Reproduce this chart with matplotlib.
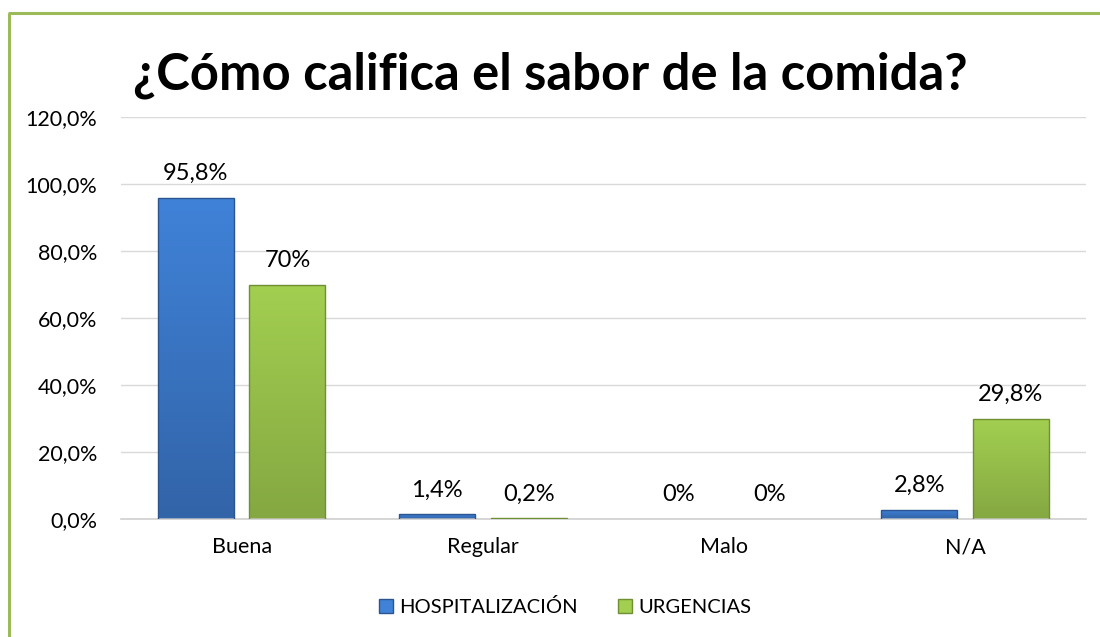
import matplotlib
matplotlib.use("Agg")
import matplotlib.pyplot as plt
import numpy as np
from matplotlib.lines import Line2D
from matplotlib.patches import Patch
from matplotlib.colors import LinearSegmentedColormap

plt.rcParams['font.family'] = ['Lato', 'DejaVu Sans']

title = "¿Cómo califica el sabor de la comida?"
categories = ["Buena", "Regular", "Malo", "N/A"]
series_names = ["HOSPITALIZACIÓN", "URGENCIAS"]
hosp = [95.8, 1.4, 0.0, 2.8]
urg = [70.0, 0.2, 0.0, 29.8]
hosp_labels = ["95,8%", "1,4%", "0%", "2,8%"]
urg_labels = ["70%", "0,2%", "0%", "29,8%"]
yticks = [0, 20, 40, 60, 80, 100, 120]
ytick_labels = ["0,0%", "20,0%", "40,0%", "60,0%", "80,0%", "100,0%", "120,0%"]

blue_top, blue_bot, blue_edge = "#4082D8", "#3264A8", "#2A5590"
green_top, green_bot, green_edge = "#A2CF50", "#85A842", "#6E8F33"

fig = plt.figure(figsize=(11, 6.37), dpi=100)
ax = fig.add_axes([0.11, 0.1852, 0.877, 0.6311])

x = np.arange(len(categories))
w = 0.315
off = 0.19

def grad_bars(bars, top, bot, edge):
    cmap = LinearSegmentedColormap.from_list("g", [bot, top])
    for b in bars:
        h = b.get_height()
        if h <= 0:
            continue
        x0, y0 = b.get_x(), b.get_y()
        bw = b.get_width()
        grad = np.linspace(0, 1, 100).reshape(-1, 1)
        im = ax.imshow(grad, extent=[x0, x0 + bw, y0, y0 + h], origin="lower",
                       cmap=cmap, aspect="auto", zorder=2.5, interpolation="bilinear")
        im.set_clip_path(b)
        b.set_facecolor("none")
        b.set_edgecolor(edge)
        b.set_linewidth(1.0)
        b.set_zorder(3)

b1 = ax.bar(x - off, hosp, w, color=blue_top, zorder=3)
b2 = ax.bar(x + off, urg, w, color=green_top, zorder=3)
grad_bars(b1, blue_top, blue_bot, blue_edge)
grad_bars(b2, green_top, green_bot, green_edge)

for bars, labs in ((b1, hosp_labels), (b2, urg_labels)):
    for b, lab in zip(bars, labs):
        ax.annotate(lab, (b.get_x() + b.get_width() / 2, b.get_height()),
                    xytext=(0, 10), textcoords="offset points",
                    ha="center", va="bottom", fontsize=17, color="#000000", zorder=5)

ax.set_xlim(-0.5, len(categories) - 0.5)
ax.set_ylim(0, 120)
ax.set_yticks(yticks)
ax.set_yticklabels(ytick_labels, fontsize=15.5)
ax.set_xticks(x)
ax.set_xticklabels(categories, fontsize=15.5)
ax.tick_params(length=0)
ax.tick_params(axis="y", pad=17)
ax.tick_params(axis="x", pad=13)
ax.grid(axis="y", color="#D9D9D9", linewidth=1, zorder=0)
ax.set_axisbelow(True)
for s in ["top", "right", "left"]:
    ax.spines[s].set_visible(False)
ax.spines["bottom"].set_color("#D0D0D0")
ax.spines["bottom"].set_linewidth(1.2)

fig.text(0.5, 0.882, title, ha="center", va="center", fontsize=36.5, fontweight="bold")

handles = [Patch(facecolor=blue_top, edgecolor=blue_edge), Patch(facecolor=green_top, edgecolor=green_edge)]
leg = fig.legend(handles, series_names, loc="center", bbox_to_anchor=(0.514, 0.047),
                 ncol=2, frameon=False, fontsize=14.5, handlelength=0.7, handleheight=0.7,
                 handletextpad=0.3, columnspacing=2.0)

border = "#9BBB59"
fig.add_artist(Line2D([9 / 1100, 9 / 1100], [0, 1 - 13 / 637], color=border, lw=2.2,
                      transform=fig.transFigure, solid_capstyle="butt"))
fig.add_artist(Line2D([8 / 1100, 1], [1 - 13 / 637, 1 - 13 / 637], color=border, lw=2.2,
                      transform=fig.transFigure, solid_capstyle="butt"))

fig.savefig("out.png", dpi=100, facecolor="white")
